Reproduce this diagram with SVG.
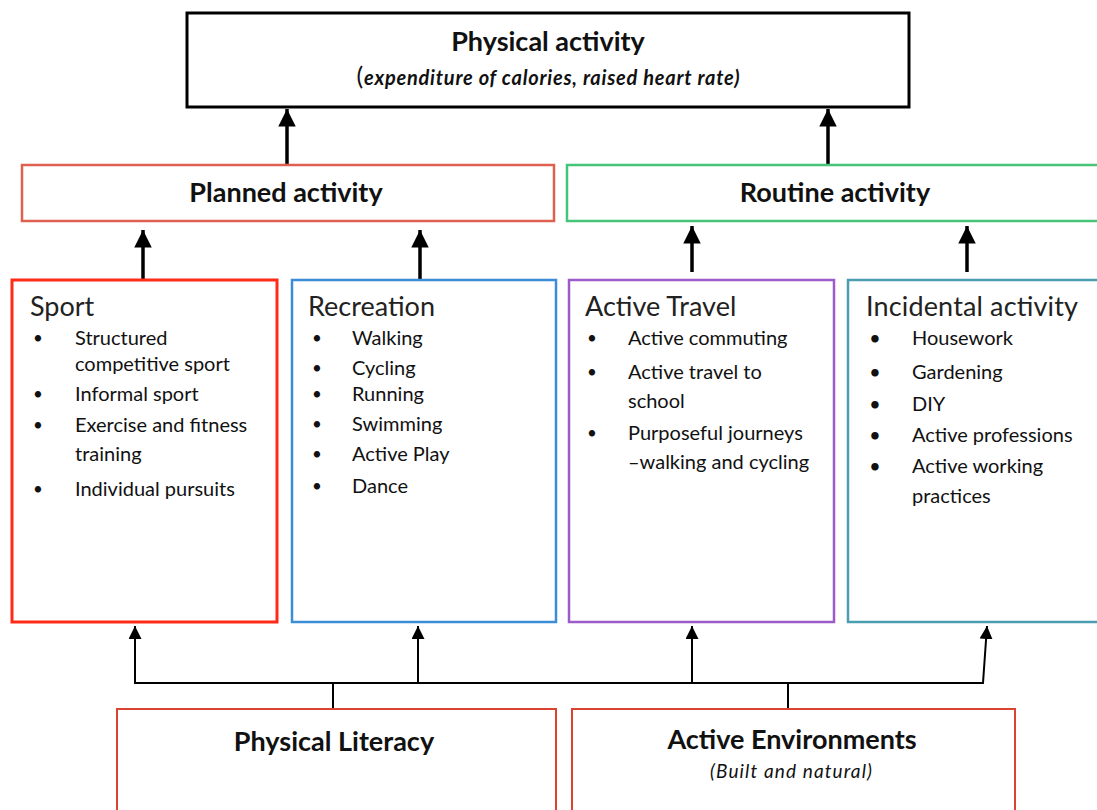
<svg xmlns="http://www.w3.org/2000/svg" width="1097" height="810" viewBox="0 0 1097 810">
<defs>
<marker id="ah" viewBox="0 0 10 10" refX="10" refY="5" markerWidth="5" markerHeight="5.5" markerUnits="strokeWidth" orient="auto">
<path d="M0,0 L10,5 L0,10 Z" fill="#000"/>
</marker>
<marker id="ahs" viewBox="0 0 10 10" refX="10" refY="5" markerWidth="6.5" markerHeight="6.5" markerUnits="strokeWidth" orient="auto">
<path d="M0,0 L10,5 L0,10 Z" fill="#000"/>
</marker>
<style>
text{font-family:Lato,"Open Sans","Liberation Sans",sans-serif;fill:#111}
.h{font-size:27px;font-weight:bold;text-anchor:middle}
.hd{font-size:27px;fill:#222}
.li{font-size:20px;fill:#333}
.bu{font-size:17px;fill:#222}
.box{fill:#fff}
.c3{stroke:#000;stroke-width:3.5;fill:none}
.c2{stroke:#000;stroke-width:2;fill:none}
</style>
</defs>
<rect width="1097" height="810" fill="#fff"/>

<g id="connectors">
<line class="c3" x1="287" y1="165" x2="287" y2="109" marker-end="url(#ah)"/>
<line class="c3" x1="828" y1="165" x2="828" y2="109" marker-end="url(#ah)"/>
<line class="c3" x1="143" y1="279" x2="143" y2="230" marker-end="url(#ah)"/>
<line class="c3" x1="420" y1="279" x2="420" y2="230" marker-end="url(#ah)"/>
<line class="c3" x1="692" y1="272" x2="692" y2="226" marker-end="url(#ah)"/>
<line class="c3" x1="967" y1="272" x2="967" y2="226" marker-end="url(#ah)"/>
<polyline class="c2" points="135,626 135,683 983,683 987,626" marker-end="url(#ahs)"/>
<line class="c2" x1="418" y1="683" x2="418" y2="626" marker-end="url(#ahs)"/>
<line class="c2" x1="692" y1="683" x2="692" y2="626" marker-end="url(#ahs)"/>
<line class="c2" x1="135" y1="683" x2="135" y2="626" marker-end="url(#ahs)"/>
<line class="c2" x1="333" y1="683" x2="333" y2="709"/>
<line class="c2" x1="788" y1="683" x2="788" y2="709"/>
</g>

<g id="physical-activity">
<rect class="box" x="187" y="13" width="722" height="94" stroke="#000" stroke-width="3"/>
<text class="h" x="548" y="51" font-size="28">Physical activity</text>
<text x="548" y="85" text-anchor="middle" font-size="20" font-weight="bold" font-style="italic" textLength="383"><tspan font-style="normal" font-size="25" font-weight="normal">(</tspan>expenditure of calories, raised heart rate)</text>
</g>

<g id="planned-activity">
<rect class="box" x="22" y="165" width="532" height="56" stroke="#de6150" stroke-width="2.5"/>
<text class="h" x="286" y="202">Planned activity</text>
</g>

<g id="routine-activity">
<rect class="box" x="567" y="165" width="545" height="56" stroke="#45c47a" stroke-width="2.5"/>
<text class="h" x="835" y="202">Routine activity</text>
</g>

<g id="sport">
<rect class="box" x="12" y="280" width="265" height="342" stroke="#ff2a18" stroke-width="3"/>
<text class="hd" x="30" y="316">Sport</text>
<g class="bu"><text x="33" y="344">•</text><text x="33" y="400">•</text><text x="33" y="431">•</text><text x="33" y="495">•</text></g>
<g class="li">
<text x="75" y="345">Structured</text>
<text x="75" y="371">competitive sport</text>
<text x="75" y="401">Informal sport</text>
<text x="75" y="432">Exercise and fitness</text>
<text x="75" y="461">training</text>
<text x="75" y="496">Individual pursuits</text>
</g>
</g>

<g id="recreation">
<rect class="box" x="292" y="280" width="264" height="342" stroke="#3b8ed6" stroke-width="2.5"/>
<text class="hd" x="308" y="316">Recreation</text>
<g class="bu"><text x="312" y="344">•</text><text x="312" y="374">•</text><text x="312" y="400">•</text><text x="312" y="430">•</text><text x="312" y="460">•</text><text x="312" y="492">•</text></g>
<g class="li">
<text x="352" y="345">Walking</text>
<text x="352" y="375">Cycling</text>
<text x="352" y="401">Running</text>
<text x="352" y="431">Swimming</text>
<text x="352" y="461">Active Play</text>
<text x="352" y="493">Dance</text>
</g>
</g>

<g id="active-travel">
<rect class="box" x="569" y="280" width="265" height="342" stroke="#9b5bc9" stroke-width="2.5"/>
<text class="hd" x="585" y="316">Active Travel</text>
<g class="bu"><text x="587" y="344">•</text><text x="587" y="378">•</text><text x="587" y="439">•</text></g>
<g class="li">
<text x="628" y="345">Active commuting</text>
<text x="628" y="379">Active travel to</text>
<text x="628" y="408">school</text>
<text x="628" y="440">Purposeful journeys</text>
<text x="628" y="469">–walking and cycling</text>
</g>
</g>

<g id="incidental-activity">
<rect class="box" x="848" y="280" width="262" height="342" stroke="#4b9db2" stroke-width="2.5"/>
<text class="hd" x="866" y="316" textLength="212">Incidental activity</text>
<g class="bu" font-weight="bold"><text x="870" y="344">•</text><text x="870" y="378">•</text><text x="870" y="410">•</text><text x="870" y="441">•</text><text x="870" y="472">•</text></g>
<g class="li">
<text x="912" y="345">Housework</text>
<text x="912" y="379">Gardening</text>
<text x="912" y="411">DIY</text>
<text x="912" y="442">Active professions</text>
<text x="912" y="473">Active working</text>
<text x="912" y="503">practices</text>
</g>
</g>

<g id="physical-literacy">
<rect class="box" x="117" y="709" width="439" height="120" stroke="#d9432f" stroke-width="2"/>
<text class="h" x="334" y="751">Physical Literacy</text>
</g>

<g id="active-environments">
<rect class="box" x="572" y="709" width="443" height="120" stroke="#d9432f" stroke-width="2"/>
<text class="h" x="792" y="749">Active Environments</text>
<text x="791" y="778" text-anchor="middle" font-size="19" font-style="italic" fill="#333" textLength="162">(Built and natural)</text>
</g>
</svg>
